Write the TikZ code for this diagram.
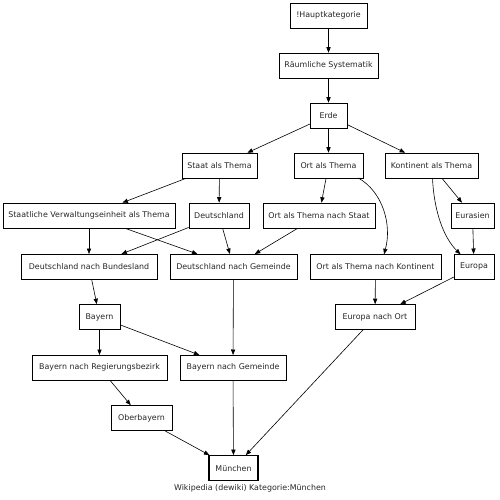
\documentclass[tikz,border=0pt]{standalone}
\usepackage{fontspec}
\setmainfont{DejaVu Sans}
\usetikzlibrary{arrows.meta}
\begin{document}
\begin{tikzpicture}[x=1pt,y=-1pt,
  box/.style={draw,line width=0.6pt,minimum height=25pt,inner sep=0pt,font=\fontsize{7.9}{9}\selectfont,text=black!85},
  edge/.style={-{Triangle[length=5.5pt,width=4.2pt]},line width=0.6pt}]
\useasboundingbox (0,0) rectangle (500,500);
\node[box,minimum width=77pt] (hk) at (328.5,15.5) {!Hauptkategorie};
\node[box,minimum width=99pt] (rs) at (328.5,65.5) {Räumliche Systematik};
\node[box,minimum width=37pt] (er) at (328.5,115.5) {Erde};
\node[box,minimum width=75pt] (st) at (219.5,165.5) {Staat als Thema};
\node[box,minimum width=69pt] (ot) at (328.5,165.5) {Ort als Thema};
\node[box,minimum width=93pt] (kt) at (431.5,165.5) {Kontinent als Thema};
\node[box,minimum width=172pt] (sv) at (89,215.5) {Staatliche Verwaltungseinheit als Thema};
\node[box,minimum width=60pt] (de) at (219,215.5) {Deutschland};
\node[box,minimum width=112pt] (os) at (319,215.5) {Ort als Thema nach Staat};
\node[box,minimum width=43pt] (ea) at (472.5,215.5) {Eurasien};
\node[box,minimum width=136pt] (db) at (89,266.8) {Deutschland nach Bundesland};
\node[box,minimum width=127pt] (dg) at (233.5,266.8) {Deutschland nach Gemeinde};
\node[box,minimum width=131pt] (ok) at (375.5,266.8) {Ort als Thema nach Kontinent};
\node[box,minimum width=40pt] (eu) at (474,266.8) {Europa};
\node[box,minimum width=41pt] (by) at (99.5,317) {Bayern};
\node[box,minimum width=80pt] (eo) at (375,317) {Europa nach Ort};
\node[box,minimum width=135pt] (br) at (99.5,367.8) {Bayern nach Regierungsbezirk};
\node[box,minimum width=106pt] (bg) at (233,367.8) {Bayern nach Gemeinde};
\node[box,minimum width=61pt] (ob) at (141.5,418) {Oberbayern};
\node[box,minimum width=49pt,line width=1.3pt] (mu) at (233.5,468.3) {München};
\node[font=\fontsize{7.9}{9}\selectfont,text=black!85] (cap) at (250,488.5) {Wikipedia (dewiki) Kategorie:München};
\coordinate (o1) at (358.3,178);
\coordinate (o2) at (384,254.3);
\coordinate (k1) at (432.5,178);
\coordinate (k2) at (460.5,254.3);
\draw[edge] (hk) -- (rs);
\draw[edge] (rs) -- (er);
\draw[edge] (er) -- (st);
\draw[edge] (er) -- (ot);
\draw[edge] (er) -- (kt);
\draw[edge] (st) -- (sv);
\draw[edge] (st) -- (de);
\draw[edge] (ot) -- (os);
\draw[edge] (o1) .. controls (383,192) and (392,225) .. (o2);
\draw[edge] (kt) -- (ea);
\draw[edge] (k1) .. controls (434,212) and (444,238) .. (k2);
\draw[edge] (ea) -- (eu);
\draw[edge] (sv) -- (db);
\draw[edge] (sv) -- (dg);
\draw[edge] (de) -- (db);
\draw[edge] (de) -- (dg);
\draw[edge] (os) -- (dg);
\draw[edge] (ok) -- (eo);
\draw[edge] (eu) -- (eo);
\draw[edge] (db) -- (by);
\draw[edge] (by) -- (br);
\draw[edge] (by) -- (bg);
\draw[edge] (dg) -- (bg);
\draw[edge] (br) -- (ob);
\draw[edge] (ob) -- (mu);
\draw[edge] (bg) -- (mu);
\draw[edge] (eo) -- (mu);
\end{tikzpicture}
\end{document}
